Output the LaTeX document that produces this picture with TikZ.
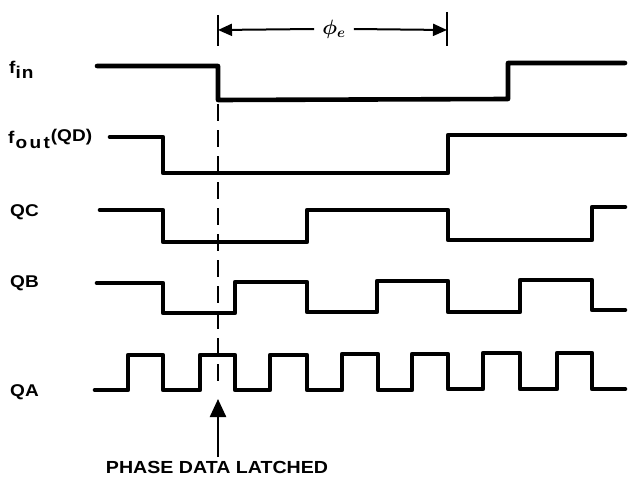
\documentclass[tikz,border=0pt]{standalone}
\usepackage{fontspec}
\setmainfont{Liberation Sans}[FakeStretch=1.12]
\usetikzlibrary{arrows.meta}
\begin{document}
\begin{tikzpicture}[x=1pt,y=-1pt,
  wave/.style={line width=4.6pt,line join=round,line cap=round},
  lbl/.style={anchor=west,inner sep=0pt,font=\fontsize{17}{19}\selectfont\bfseries},
  guide/.style={line width=2.8pt,dash pattern=on 17pt off 9pt},
  tick/.style={line width=2.8pt},
  dim/.style={line width=2pt,-{Triangle[length=14pt,width=12pt]}}]
\useasboundingbox (0,0) rectangle (628,487);
% labels
\node[lbl] (lfin) at (9,70) {f\raisebox{-0.6ex}{\addfontfeature{LetterSpace=6}in}};
\node[lbl] (lfout) at (8,139) {f\hspace{1pt}\raisebox{-0.6ex}{\addfontfeature{LetterSpace=14}out}\hspace{1pt}\raisebox{0.25ex}{(QD)}};
\node[lbl] (lqc) at (10,212) {QC};
\node[lbl] (lqb) at (10,283) {QB};
\node[lbl] (lqa) at (10,392) {QA};
% phase error dimension
\node[inner sep=2pt,font=\fontsize{21}{22}\selectfont\boldmath] (phi) at (334,29) {$\phi_{e}$};
\coordinate (tl) at (218,30);
\coordinate (tr) at (447,30);
\draw[tick] (218,15) -- (218,46);
\draw[tick] (447,12) -- (447,46);
\draw[dim] (phi.west) ++(-6,0) -- (tl);
\draw[dim] (phi.east) ++(6,0) -- (tr);
% guide line
\draw[guide] (218,104) -- (218,386);
% waveforms
\draw[wave] (97,66) -- (218,66) -- (218,100) -- (508,99) -- (508,63) -- (625,63);
\draw[wave] (110,137) -- (163,137) -- (163,173) -- (448,173) -- (448,135) -- (625,135);
\draw[wave] (100,210) -- (163,210) -- (163,242) -- (307,242) -- (307,210) -- (448,210)
  -- (448,240) -- (592,240) -- (592,207) -- (625,207);
\draw[wave] (97,283) -- (163,283) -- (163,313) -- (235,313) -- (235,282) -- (307,282)
  -- (307,312) -- (377,312) -- (377,281) -- (448,281) -- (448,312) -- (520,312)
  -- (520,280) -- (592,280) -- (592,310) -- (625,310);
\draw[wave] (95,390) -- (128,390) -- (128,355) -- (163,355) -- (163,390) -- (200,390)
  -- (200,355) -- (235,355) -- (235,390) -- (270,390) -- (270,355) -- (307,355)
  -- (307,390) -- (342,390) -- (342,354) -- (378,354) -- (378,390) -- (412,390)
  -- (412,354) -- (448,354) -- (448,389) -- (483,389) -- (483,353) -- (520,353)
  -- (520,389) -- (557,389) -- (557,353) -- (592,353) -- (592,389) -- (625,389);
% latch annotation
\node[inner sep=0pt,font=\fontsize{17.5}{19}\selectfont\bfseries] (latch) at (217,467) {PHASE DATA LATCHED};
\coordinate (latchpt) at (218,399);
\draw[line width=2.4pt,-{Triangle[length=18pt,width=16pt]}] (218,457) -- (latchpt);
\end{tikzpicture}
\end{document}
